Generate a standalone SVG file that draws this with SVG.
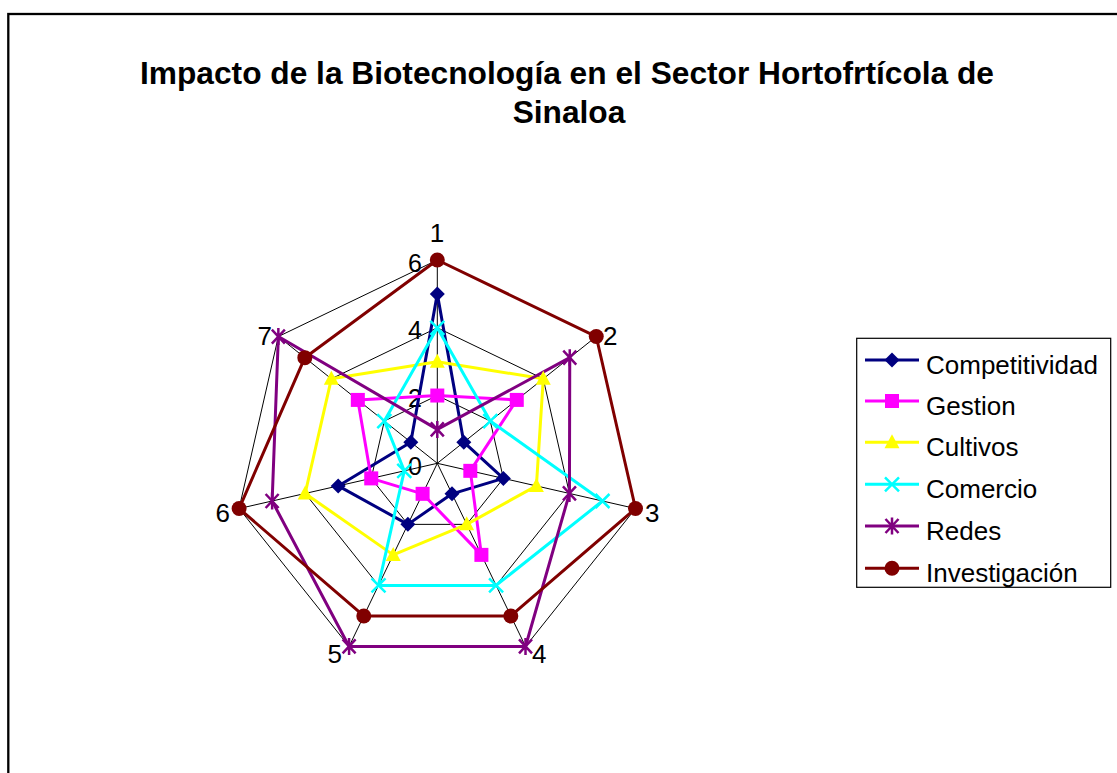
<svg xmlns="http://www.w3.org/2000/svg" xmlns:xlink="http://www.w3.org/1999/xlink" width="1117" height="773" viewBox="0 0 1117 773">
  <style>
    text { font-family: "Liberation Sans", Arial, sans-serif; fill: #000; }
    .title { font-size: 31.7px; font-weight: bold; text-anchor: middle; }
    .axl { font-size: 26px; }
    .val { font-size: 25px; text-anchor: end; }
    .leg { font-size: 26px; }
    .grid { fill: none; stroke: #000; stroke-width: 1; }
    .s { fill: none; stroke-width: 3; stroke-linejoin: round; }
  </style>
  <defs>
    <polygon id="dia" points="0,-7.5 7.5,0 0,7.5 -7.5,0"/>
    <rect id="sq" x="-7" y="-7" width="14" height="14"/>
    <polygon id="tri" points="0,-8 7.5,6 -7.5,6"/>
    <path id="xm" d="M-7,-7 L7,7 M-7,7 L7,-7" fill="none" stroke="#00FFFF" stroke-width="2.5"/>
    <path id="st" d="M-6.5,-7 L6.5,7 M-6.5,7 L6.5,-7 M0,-8.5 V8.5" fill="none" stroke="#800080" stroke-width="2.5"/>
    <circle id="ci" r="7.5"/>
  </defs>
  <rect width="1117" height="773" fill="#fff"/>
  <rect x="8.3" y="14" width="1130" height="780" fill="none" stroke="#000" stroke-width="2.3"/>

  <g id="title">
    <text class="title" x="567" y="84">Impacto de la Biotecnología en el Sector Hortofrtícola de</text>
    <text class="title" x="569" y="123">Sinaloa</text>
  </g>

  <g id="grid">
    <polygon class="grid" points="437.3,260 596.25,336.54 635.5,508.54 525.51,646.47 349.09,646.47 239.1,508.54 278.35,336.54"/>
    <polygon class="grid" points="437.3,327.77 543.26,378.8 569.44,493.46 496.1,585.41 378.5,585.41 305.16,493.46 331.34,378.8"/>
    <polygon class="grid" points="437.3,395.53 490.28,421.05 503.37,478.38 466.7,524.36 407.9,524.36 371.23,478.38 384.32,421.05"/>
    <path class="grid" d="M437.3,463.3 L437.3,260 M437.3,463.3 L596.25,336.54 M437.3,463.3 L635.5,508.54 M437.3,463.3 L525.51,646.47 M437.3,463.3 L349.09,646.47 M437.3,463.3 L239.1,508.54 M437.3,463.3 L278.35,336.54"/>
  </g>

  <g id="axis-labels">
    <text class="axl" x="437" y="242" text-anchor="middle">1</text>
    <text class="axl" x="603" y="345">2</text>
    <text class="axl" x="645" y="522">3</text>
    <text class="axl" x="532" y="663">4</text>
    <text class="axl" x="342" y="663" text-anchor="end">5</text>
    <text class="axl" x="230" y="522" text-anchor="end">6</text>
    <text class="axl" x="272" y="345" text-anchor="end">7</text>
    <text class="val" x="422" y="272">6</text>
    <text class="val" x="422" y="339">4</text>
    <text class="val" x="422" y="407">2</text>
    <text class="val" x="422" y="475">0</text>
  </g>

  <g id="connectors">
    <polygon id="line-competitividad" class="s" stroke="#000080" points="437.3,293.88 463.79,442.17 503.37,478.38 452,493.83 407.9,524.36 338.2,485.92 410.81,442.17"/>
    <polygon id="line-gestion" class="s" stroke="#FF00FF" points="437.3,395.53 516.77,399.92 470.33,470.84 481.4,554.88 422.6,493.83 371.23,478.38 357.83,399.92"/>
    <polygon id="line-cultivos" class="s" stroke="#FFFF00" points="437.3,361.65 543.26,378.8 536.4,485.92 466.7,524.36 393.2,554.88 305.16,493.46 331.34,378.8"/>
    <polygon id="line-comercio" class="s" stroke="#00FFFF" points="437.3,327.77 490.28,421.05 602.47,501 496.1,585.41 378.5,585.41 404.27,470.84 384.32,421.05"/>
    <polygon id="line-redes" class="s" stroke="#800080" points="437.3,429.42 569.76,357.67 569.44,493.46 525.51,646.47 349.09,646.47 272.13,501 278.35,336.54"/>
    <polygon id="line-investigacion" class="s" stroke="#800000" points="437.3,260 596.25,336.54 635.5,508.54 510.81,615.94 363.79,615.94 239.1,508.54 304.84,357.67"/>
  </g>

  <g id="competitividad" fill="#000080">
    <use href="#dia" x="437.3" y="293.88"/><use href="#dia" x="463.79" y="442.17"/><use href="#dia" x="503.37" y="478.38"/><use href="#dia" x="452" y="493.83"/><use href="#dia" x="407.9" y="524.36"/><use href="#dia" x="338.2" y="485.92"/><use href="#dia" x="410.81" y="442.17"/>
  </g>
  <g id="gestion" fill="#FF00FF">
    <use href="#sq" x="437.3" y="395.53"/><use href="#sq" x="516.77" y="399.92"/><use href="#sq" x="470.33" y="470.84"/><use href="#sq" x="481.4" y="554.88"/><use href="#sq" x="422.6" y="493.83"/><use href="#sq" x="371.23" y="478.38"/><use href="#sq" x="357.83" y="399.92"/>
  </g>
  <g id="cultivos" fill="#FFFF00">
    <use href="#tri" x="437.3" y="361.65"/><use href="#tri" x="543.26" y="378.8"/><use href="#tri" x="536.4" y="485.92"/><use href="#tri" x="466.7" y="524.36"/><use href="#tri" x="393.2" y="554.88"/><use href="#tri" x="305.16" y="493.46"/><use href="#tri" x="331.34" y="378.8"/>
  </g>
  <g id="comercio">
    <use href="#xm" x="437.3" y="327.77"/><use href="#xm" x="490.28" y="421.05"/><use href="#xm" x="602.47" y="501"/><use href="#xm" x="496.1" y="585.41"/><use href="#xm" x="378.5" y="585.41"/><use href="#xm" x="404.27" y="470.84"/><use href="#xm" x="384.32" y="421.05"/>
  </g>
  <g id="redes">
    <use href="#st" x="437.3" y="429.42"/><use href="#st" x="569.76" y="357.67"/><use href="#st" x="569.44" y="493.46"/><use href="#st" x="525.51" y="646.47"/><use href="#st" x="349.09" y="646.47"/><use href="#st" x="272.13" y="501"/><use href="#st" x="278.35" y="336.54"/>
  </g>
  <g id="investigacion" fill="#800000">
    <use href="#ci" x="437.3" y="260"/><use href="#ci" x="596.25" y="336.54"/><use href="#ci" x="635.5" y="508.54"/><use href="#ci" x="510.81" y="615.94"/><use href="#ci" x="363.79" y="615.94"/><use href="#ci" x="239.1" y="508.54"/><use href="#ci" x="304.84" y="357.67"/>
  </g>

  <g id="legend">
    <rect x="856.7" y="338.3" width="254" height="249" fill="#fff" stroke="#000" stroke-width="1.2"/>
    <line x1="865" y1="360" x2="919" y2="360" stroke="#000080" stroke-width="3"/>
    <use href="#dia" x="892" y="360" fill="#000080"/>
    <text class="leg" x="926" y="373.5">Competitividad</text>
    <line x1="865" y1="401" x2="919" y2="401" stroke="#FF00FF" stroke-width="3"/>
    <use href="#sq" x="892" y="401" fill="#FF00FF"/>
    <text class="leg" x="926" y="414.5">Gestion</text>
    <line x1="865" y1="442.3" x2="919" y2="442.3" stroke="#FFFF00" stroke-width="3"/>
    <use href="#tri" x="892" y="442.3" fill="#FFFF00"/>
    <text class="leg" x="926" y="455.8">Cultivos</text>
    <line x1="865" y1="484.3" x2="919" y2="484.3" stroke="#00FFFF" stroke-width="3"/>
    <use href="#xm" x="892" y="484.3"/>
    <text class="leg" x="926" y="497.8">Comercio</text>
    <line x1="865" y1="526" x2="919" y2="526" stroke="#800080" stroke-width="3"/>
    <use href="#st" x="892" y="526"/>
    <text class="leg" x="926" y="539.5">Redes</text>
    <line x1="865" y1="568.3" x2="919" y2="568.3" stroke="#800000" stroke-width="3"/>
    <use href="#ci" x="892" y="568.3" fill="#800000"/>
    <text class="leg" x="926" y="581.8">Investigación</text>
  </g>
</svg>
